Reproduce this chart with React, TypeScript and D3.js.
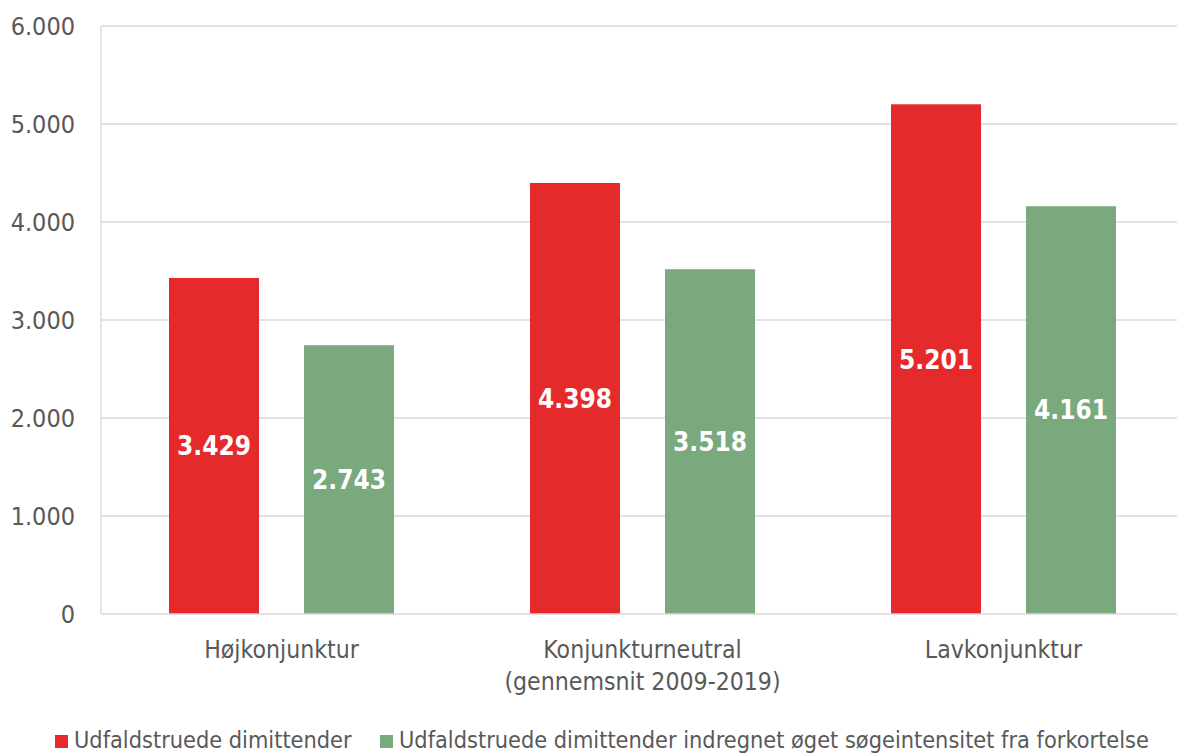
import React from "react";
import * as d3 from "d3";

const categories = ["Højkonjunktur", "Konjunkturneutral|(gennemsnit 2009-2019)", "Lavkonjunktur"];
const seriesNames = [
  "Udfaldstruede dimittender",
  "Udfaldstruede dimittender indregnet øget søgeintensitet fra forkortelse",
];
const redValues = [3429, 4398, 5201];
const greenValues = [2743, 3518, 4161];
const yTicks = [0, 1000, 2000, 3000, 4000, 5000, 6000];
const colors = ["#e52a2b", "#79a97d"];

const W = 1177;
const H = 754;
const FONT = "'DejaVu Sans Condensed', 'DejaVu Sans', sans-serif";
const fmt = (v: number) => d3.format(",")(v).replace(/,/g, ".");

export default function App() {
  const x0 = d3.scaleBand<string>().domain(categories).range([101, 1184]).paddingInner(0).paddingOuter(0);
  const y = d3.scaleLinear().domain([0, 6000]).range([614, 26]);
  const bw = 90;
  const gap = 45;
  const series = [redValues, greenValues];

  return (
    <svg width={W} height={H} style={{ position: "absolute", left: 0, top: 0, background: "#fff" }}>
      {yTicks.map((t) => (
        <g key={t}>
          {t > 0 && <line x1={101} x2={W} y1={y(t)} y2={y(t)} stroke="#d9d9d9" strokeWidth={1.3} />}
          <text x={75} y={y(t)} dy="0.36em" textAnchor="end" fontFamily={FONT} fontSize={25} fill="#595959">
            {fmt(t)}
          </text>
        </g>
      ))}
      <line x1={101} x2={101} y1={26} y2={614} stroke="#d9d9d9" strokeWidth={1.3} />
      {categories.map((c, i) => {
        const cx = (x0(c) as number) + x0.bandwidth() / 2;
        return (
          <g key={c}>
            {series.map((vals, s) => {
              const left = s === 0 ? cx - gap / 2 - bw : cx + gap / 2;
              const v = vals[i];
              return (
                <g key={s}>
                  <rect x={left} y={y(v)} width={bw} height={y(0) - y(v)} fill={colors[s]} />
                  <text
                    x={left + bw / 2}
                    y={(y(v) + y(0)) / 2}
                    dy="0.36em"
                    textAnchor="middle"
                    fontFamily={FONT}
                    fontWeight="bold"
                    fontSize={26}
                    fill="#fff"
                  >
                    {fmt(v)}
                  </text>
                </g>
              );
            })}
            {c.split("|").map((line, k) => (
              <text
                key={k}
                x={cx}
                y={658 + k * 32}
                textAnchor="middle"
                fontFamily={FONT}
                fontSize={24.6}
                fill="#595959"
              >
                {line}
              </text>
            ))}
          </g>
        );
      })}
      <line x1={101} x2={W} y1={614} y2={614} stroke="#d9d9d9" strokeWidth={1.3} />
      {seriesNames.map((n, s) => {
        const lx = s === 0 ? 55 : 380;
        return (
          <g key={n}>
            <rect x={lx} y={735} width={13} height={13} fill={colors[s]} />
            <text x={lx + 19} y={748} fontFamily={FONT} fontSize={23.3} fill="#595959">
              {n}
            </text>
          </g>
        );
      })}
    </svg>
  );
}
